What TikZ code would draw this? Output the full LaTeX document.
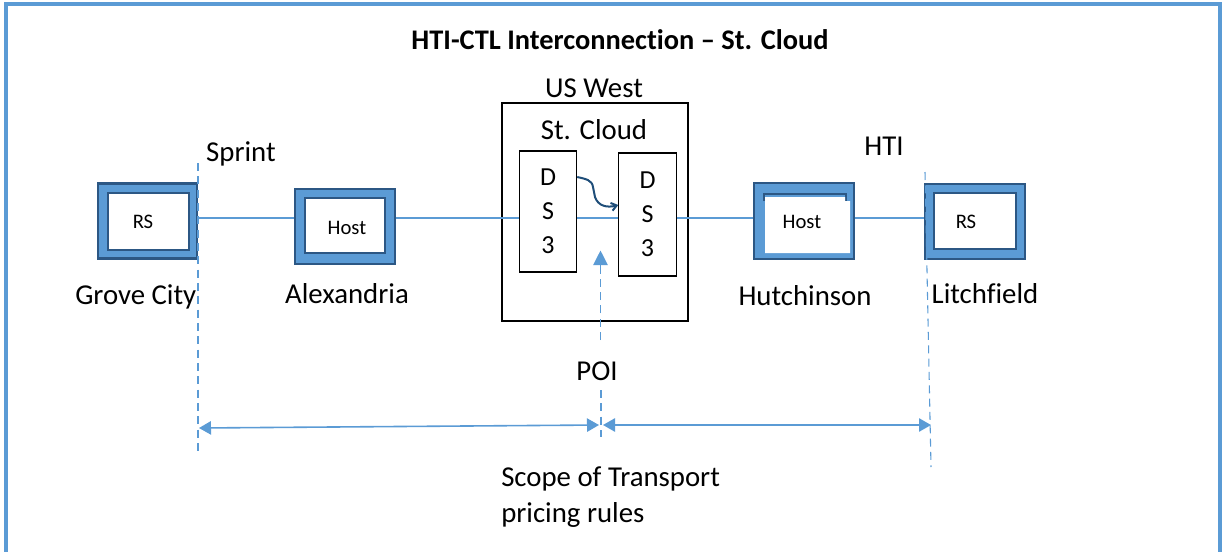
\documentclass[tikz,border=0pt]{standalone}
\usepackage{fontspec}
\setmainfont{Carlito}[Ligatures=NoCommon]
\usetikzlibrary{arrows.meta,calc}
\definecolor{ltblue}{HTML}{5B9BD5}
\definecolor{dkblue}{HTML}{2C5784}
\definecolor{navy}{HTML}{1F4E79}
\tikzset{
  lbl/.style={inner sep=0pt, font=\fontsize{21.6}{26}\selectfont},
  small/.style={inner sep=0pt, font=\fontsize{15.5}{18}\selectfont},
  siteouter/.style={draw=dkblue, line width=2.2pt, fill=ltblue, inner sep=0pt},
  siteinner/.style={draw=dkblue, line width=2pt, fill=white, inner sep=0pt},
  dsbox/.style={draw=black, line width=0.8pt, fill=white, inner sep=0pt, minimum width=43pt, align=center, font=\fontsize{19.5}{25.5}\selectfont},
  link/.style={ltblue, line width=1.2pt},
  dashv/.style={ltblue, line width=0.8pt, dash pattern=on 6pt off 4pt},
  dimarrow/.style={ltblue, line width=1.2pt, {Triangle[length=9pt,width=10pt]}-{Triangle[length=9pt,width=10pt]}},
}
\begin{document}
\begin{tikzpicture}[x=0.75pt,y=-0.75pt]
\useasboundingbox (0,0) rectangle (1222,551);
% frame
\draw[ltblue, line width=2.4pt] (6,553) -- (6,4) -- (1220,4) -- (1220,553);
% title
\node[lbl, font=\fontsize{21.3}{25}\selectfont\bfseries] (title) at (620,40) {HTI-CTL Interconnection – St. Cloud};
% main level
\coordinate (m) at (0,218);
% US West box
\node[draw=black, line width=0.8pt, minimum width=139.5pt, minimum height=163.5pt, inner sep=0pt] (usw) at (595,212) {};
\node[lbl] (uswl) at (594,88) {US West};
\node[lbl] (stc) at (594,130) {St. Cloud};
\node[dsbox, minimum height=90.75pt] (dsL) at (548,211.5) {D\\S\\3};
\node[dsbox, minimum height=92.25pt] (dsR) at (647.5,214.5) {D\\S\\3};
% sites
\node[siteouter, minimum width=74.25pt, minimum height=56.25pt] (gco) at (147.5,221) {};
\node[siteinner, minimum width=60.75pt, minimum height=42.75pt] (gci) at (148.5,221.5) {};
\node[small] (gct) at (143,222) {RS};
\node[siteouter, minimum width=75pt, minimum height=56.25pt] (alo) at (345,226.5) {};
\node[siteinner, minimum width=60pt, minimum height=41.25pt] (ali) at (345,225.5) {};
\node[small] (alt) at (347,228) {Host};
\node[siteouter, minimum width=75pt, minimum height=57pt] (huo) at (804,221) {};
\draw[dkblue, line width=2pt] (764,201) -- (764,194) -- (846,194) -- (846,201);
\fill[white] (765,197) -- (845,197) -- (845,201) -- (850,201) -- (850,253) -- (765,253) -- cycle;
\node[small] (hut) at (802,222) {Host};
\node[siteouter, minimum width=75pt, minimum height=56.25pt] (lio) at (975,221.5) {};
\node[siteinner, minimum width=61.5pt, minimum height=42pt] (lii) at (975,221) {};
\node[small] (lit) at (966,222) {RS};
% place labels
\node[lbl, anchor=west] (gcl) at (75,297) {Grove City};
\node[lbl] (all) at (347,294) {Alexandria};
\node[lbl] (hul) at (805,296) {Hutchinson};
\node[lbl] (lil) at (985,294) {Litchfield};
\node[lbl] (spr) at (241,154) {Sprint};
\node[lbl] (hti) at (884,146) {HTI};
\node[lbl] (poi) at (597,371) {POI};
\node[lbl, align=left, anchor=north west, font=\fontsize{21.6}{27}\selectfont] (scope) at (501,466) {Scope of Transport\\pricing rules};
% links
\draw[link] (gco.east |- m) -- (alo.west |- m);
\draw[link] (alo.east |- m) -- (dsL.west |- m);
\draw[link] (dsL.east |- m) -- (dsR.west |- m);
\draw[link] (dsR.east |- m) -- (huo.west |- m);
\draw[link] (huo.east |- m) -- (lio.west |- m);
% cross connect
\coordinate (wa) at (0,177);
\coordinate (wb) at (0,205);
\draw[navy, line width=1.5pt, -{Straight Barb[length=4pt,width=6pt]}] (dsL.east |- wa) .. controls (586,179) and (592,180) .. (593,187) -- (595,197) .. controls (598,206) and (607,208) .. (dsR.west |- wb);
% dashed boundaries
\coordinate (sp1) at (198,163);
\coordinate (sp2) at (198,455);
\coordinate (ht1) at (925,172);
\coordinate (ht2) at (931,467);
\coordinate (pm1) at (601,390);
\coordinate (pm2) at (601,437);
\coordinate (pa) at (600.5,340);
\draw[dashv] (sp1) -- (sp2);
\draw[dashv] (ht1) -- (ht2);
\draw[dashv] (pm1) -- (pm2);
\draw[dashv, -{Triangle[length=11pt,width=11pt]}] (pa) -- (dsL.south -| pa) -- ++(0,-22);
% scope arrows
\coordinate (a1) at (199,428);
\coordinate (a2) at (599,425);
\coordinate (a3) at (603,425);
\coordinate (a4) at (931,425);
\draw[dimarrow] (a1) -- (a2);
\draw[dimarrow] (a3) -- (a4);
\end{tikzpicture}
\end{document}
